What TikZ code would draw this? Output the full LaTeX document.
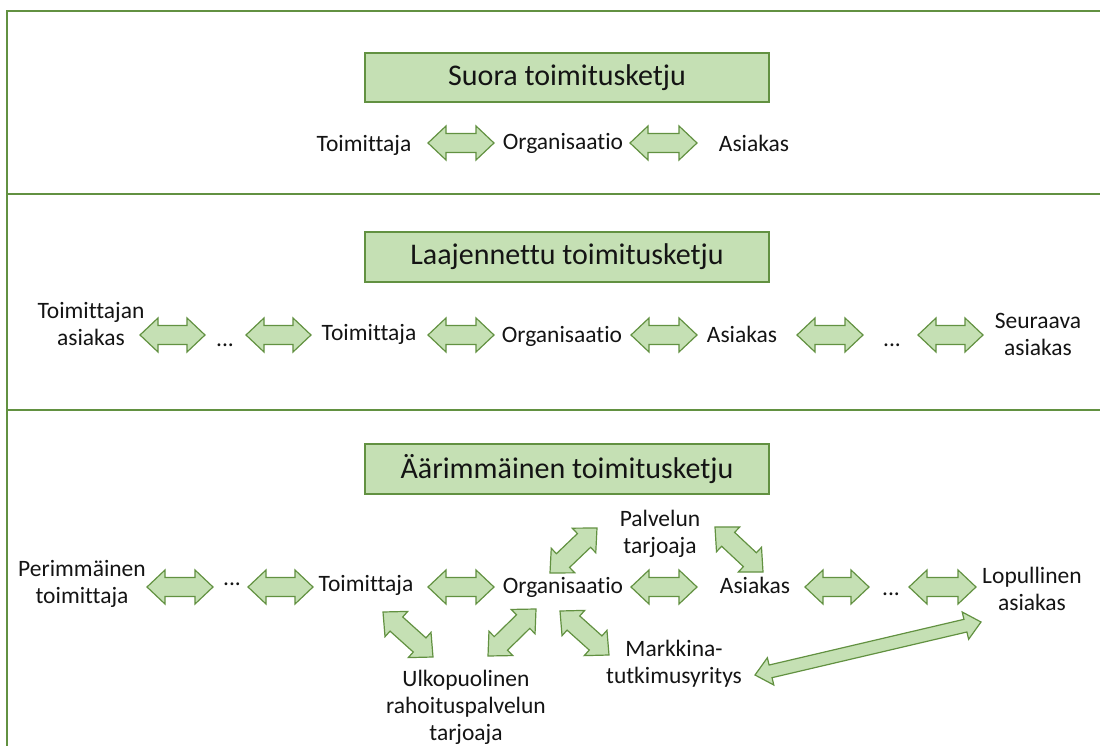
\documentclass[tikz,border=0pt]{standalone}
\usepackage{fontspec}
\setmainfont{Carlito}[Ligatures=NoCommon]
\usetikzlibrary{calc}
\definecolor{leaf}{HTML}{C5E0B4}
\definecolor{moss}{HTML}{629141}
\definecolor{ink}{HTML}{141414}
\tikzset{
  fat head length/.store in=\fhl,
  fat head width/.store in=\fhw,
  fat shaft width/.store in=\fsw,
  fat head length=18pt, fat head width=17pt, fat shaft width=9.5pt,
  % outlined double-headed block arrow between two points
  fat/.style={draw=moss, fill=leaf, line width=1.2pt, line join=miter,
    to path={let \p1=(\tikztostart), \p2=(\tikztotarget) in
      (\p1) -- ($(\p1)!\fhl!(\p2)!\fhw!90:(\p2)$)
            -- ($(\p1)!\fhl!(\p2)!\fsw!90:(\p2)$)
            -- ($(\p2)!\fhl!(\p1)!\fsw!-90:(\p1)$)
            -- ($(\p2)!\fhl!(\p1)!\fhw!-90:(\p1)$)
            -- (\p2)
            -- ($(\p2)!\fhl!(\p1)!\fhw!90:(\p1)$)
            -- ($(\p2)!\fhl!(\p1)!\fsw!90:(\p1)$)
            -- ($(\p1)!\fhl!(\p2)!\fsw!-90:(\p2)$)
            -- ($(\p1)!\fhl!(\p2)!\fhw!-90:(\p2)$) -- cycle}},
  % labels sit on the baseline of their last line
  lbl/.style={inner sep=0pt, anchor=base, text=ink, align=center,
    font=\fontsize{23.5}{27}\selectfont},
  heading/.style={draw=moss, fill=leaf, line width=1.5pt, inner sep=0pt,
    minimum width=404pt, minimum height=49pt, text=ink,
    font=\fontsize{30}{36}\selectfont},
  frame/.style={draw=moss, line width=1.5pt},
}
\begin{document}
\begin{tikzpicture}[x=1pt,y=-1pt]
\useasboundingbox (0,0) rectangle (1100,746);

% panel frame
\draw[frame] (7,746) -- (7,11) -- (1100,11);
\draw[frame] (7,194) -- (1100,194);
\draw[frame] (7,410) -- (1100,410);

% headings
\node[heading] (h1) at (567,77.5) {Suora toimitusketju};
\node[heading, minimum height=50pt] (h2) at (567,257) {Laajennettu toimitusketju};
\node[heading, minimum height=50pt] (h3) at (567,469) {Äärimmäinen toimitusketju};

% direct chain
\node[lbl] (t1) at (364,152) {Toimittaja};
\node[lbl] (o1) at (563,150) {Organisaatio};
\node[lbl] (a1) at (754,152) {Asiakas};
\draw[fat] ($(t1.base)+(64,-9)$) to ($(o1.base)+(-69,-7)$);
\draw[fat] ($(o1.base)+(67,-7)$) to ($(a1.base)+(-57,-9)$);

% extended chain
\node[lbl] (ta2) at (91,345) {Toimittajan\\asiakas};
\node[lbl] (d2a) at (225,346) {...};
\node[lbl] (t2) at (369,340) {Toimittaja};
\node[lbl] (o2) at (562,342) {Organisaatio};
\node[lbl] (a2) at (742,342) {Asiakas};
\node[lbl] (d2b) at (892,346) {...};
\node[lbl] (s2) at (1038,355) {Seuraava\\asiakas};
\draw[fat] ($(ta2.base)+(49,-10)$) to ($(d2a.base)+(-20,-11)$);
\draw[fat] ($(d2a.base)+(21,-11)$) to ($(t2.base)+(-58,-5)$);
\draw[fat] ($(t2.base)+(59,-5)$) to ($(o2.base)+(-68,-7)$);
\draw[fat] ($(o2.base)+(69,-7)$) to ($(a2.base)+(-45,-7)$);
\draw[fat] ($(a2.base)+(55,-7)$) to ($(d2b.base)+(-29,-11)$);
\draw[fat] ($(d2b.base)+(26,-11)$) to ($(s2.base)+(-55,-20)$);

% ultimate chain
\node[lbl] (p3) at (82,603) {Perimmäinen\\toimittaja};
\node[lbl] (d3a) at (232,585) {...};
\node[lbl] (t3) at (366,591) {Toimittaja};
\node[lbl] (o3) at (563,593) {Organisaatio};
\node[lbl] (a3) at (755,593) {Asiakas};
\node[lbl] (d3b) at (891,595) {...};
\node[lbl] (l3) at (1032,610) {Lopullinen\\asiakas};
\node[lbl] (pt) at (660,553) {Palvelun\\tarjoaja};
\node[lbl] (ur) at (466,740) {Ulkopuolinen\\rahoituspalvelun\\tarjoaja};
\node[lbl] (mt) at (674,683) {Markkina-\\tutkimusyritys};
\draw[fat] ($(p3.base)+(65,-16)$) to ($(d3a.base)+(-19,2)$);
\draw[fat] ($(d3a.base)+(16,2)$) to ($(t3.base)+(-53,-4)$);
\draw[fat] ($(t3.base)+(62,-4)$) to ($(o3.base)+(-69,-6)$);
\draw[fat] ($(o3.base)+(68,-6)$) to ($(a3.base)+(-58,-6)$);
\draw[fat] ($(a3.base)+(50,-6)$) to ($(d3b.base)+(-22,-8)$);
\draw[fat] ($(d3b.base)+(18,-8)$) to ($(l3.base)+(-56,-23)$);
\draw[fat] ($(o3.base)+(-13,-20)$) to ($(pt.base)+(-63,-25)$);
\draw[fat] ($(pt.base)+(55,-26)$) to ($(a3.base)+(8,-21)$);
\draw[fat] ($(t3.base)+(17,21)$) to ($(ur.base)+(-33,-83)$);
\draw[fat] ($(ur.base)+(22,-84)$) to ($(o3.base)+(-27,16)$);
\draw[fat] ($(o3.base)+(-3,18)$) to ($(mt.base)+(-65,-28)$);
\draw[fat, fat head length=16pt, fat head width=14pt, fat shaft width=6.5pt]
  ($(mt.base)+(81,-8)$) to ($(l3.base)+(-51,12)$);
\end{tikzpicture}
\end{document}
